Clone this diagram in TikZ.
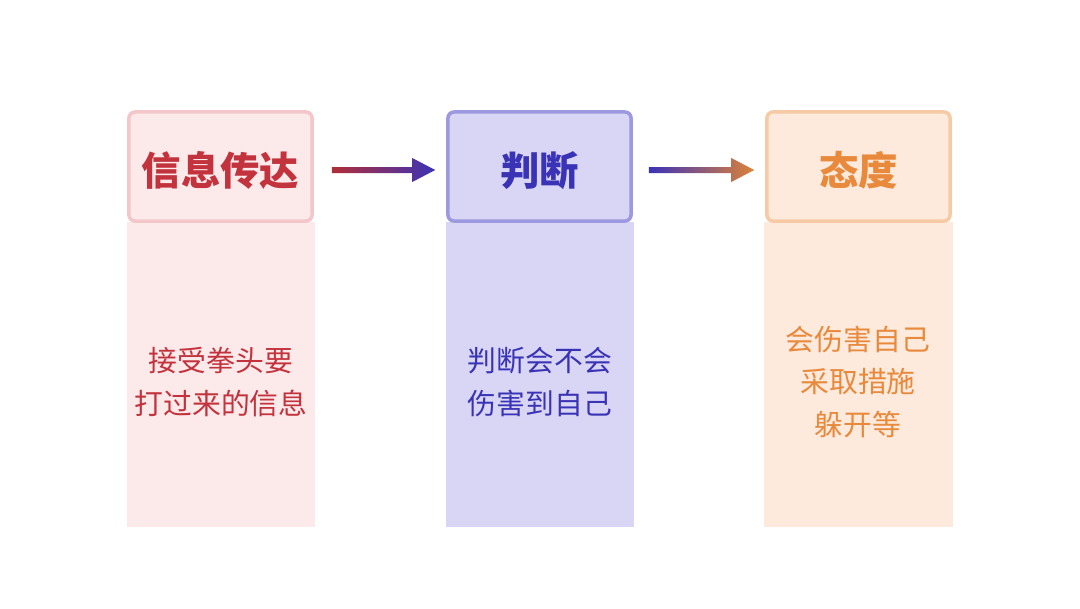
\documentclass[tikz,border=0pt]{standalone}
\usepackage{fontspec}
\newfontfamily\cjk{Noto Sans CJK SC}
\usetikzlibrary{calc}
\definecolor{redtxt}{HTML}{C3333D}
\definecolor{redline}{HTML}{F3C6CA}
\definecolor{redfill}{HTML}{FCE9EA}
\definecolor{bluetxt}{HTML}{3B33B6}
\definecolor{blueline}{HTML}{9D99E0}
\definecolor{bluefill}{HTML}{D8D6F4}
\definecolor{orgtxt}{HTML}{E8893C}
\definecolor{orgline}{HTML}{F6CAA4}
\definecolor{orgfill}{HTML}{FDEADD}

\begin{document}
\begin{tikzpicture}[x=0.025cm, y=-0.025cm,
    colbg/.style={inner sep=0, minimum width=4.7cm, minimum height=7.625cm},
    head/.style={rounded corners=0.15cm, line width=0.0875cm, inner sep=0,
        minimum width=4.575cm, minimum height=2.725cm},
    htxt/.style={inner sep=0, font=\cjk\bfseries\fontsize{28}{30}\selectfont},
    body/.style={align=center, inner sep=0, font=\cjk\fontsize{20.5}{30}\selectfont}]

    \useasboundingbox[fill=white] (0,0) rectangle (1080,608);

    % columns
    \node[colbg, fill=redfill] (c1) at (221,374.5) {};
    \node[colbg, fill=bluefill] (c2) at (540,374.5) {};
    \node[colbg, fill=orgfill] (c3) at (858.5,374.5) {};

    % header boxes
    \node[head, draw=redline, fill=redfill] (h1) at (220.5,166.5) {};
    \node[head, draw=blueline, fill=bluefill] (h2) at (539.5,166.5) {};
    \node[head, draw=orgline, fill=orgfill] (h3) at (858.5,166.5) {};
    \node[htxt, text=redtxt] (l1) at ($(h1.center)+(0,4)$) {信息传达};
    \node[htxt, text=bluetxt] (l2) at ($(h2.center)+(0,4)$) {判断};
    \node[htxt, text=orgtxt] (l3) at ($(h3.center)+(0,4)$) {态度};

    % texts
    \node[body, text=redtxt] (t1) at (221,382) {接受拳头要\\打过来的信息};
    \node[body, text=bluetxt] (t2) at (540,382) {判断会不会\\伤害到自己};
    \node[body, text=orgtxt] (t3) at (858,382) {会伤害自己\\采取措施\\躲开等};

    % arrows
    \coordinate (a1) at ($(h1.east)+(18,3.5)$);
    \coordinate (b1) at ($(h2.west)+(-11,3.5)$);
    \shade[left color=redtxt!90!black, right color=bluetxt]
        ($(a1)+(0,-3)$) -- ($(b1)+(-23,-3)$) -- ($(b1)+(-23,-12)$) -- (b1)
        -- ($(b1)+(-23,12)$) -- ($(b1)+(-23,3)$) -- ($(a1)+(0,3)$) -- cycle;
    \coordinate (a2) at ($(h2.east)+(16,3.5)$);
    \coordinate (b2) at ($(h3.west)+(-11,3.5)$);
    \shade[left color=bluetxt, right color=orgtxt!95!black]
        ($(a2)+(0,-3)$) -- ($(b2)+(-23,-3)$) -- ($(b2)+(-23,-12)$) -- (b2)
        -- ($(b2)+(-23,12)$) -- ($(b2)+(-23,3)$) -- ($(a2)+(0,3)$) -- cycle;

\end{tikzpicture}
\end{document}
